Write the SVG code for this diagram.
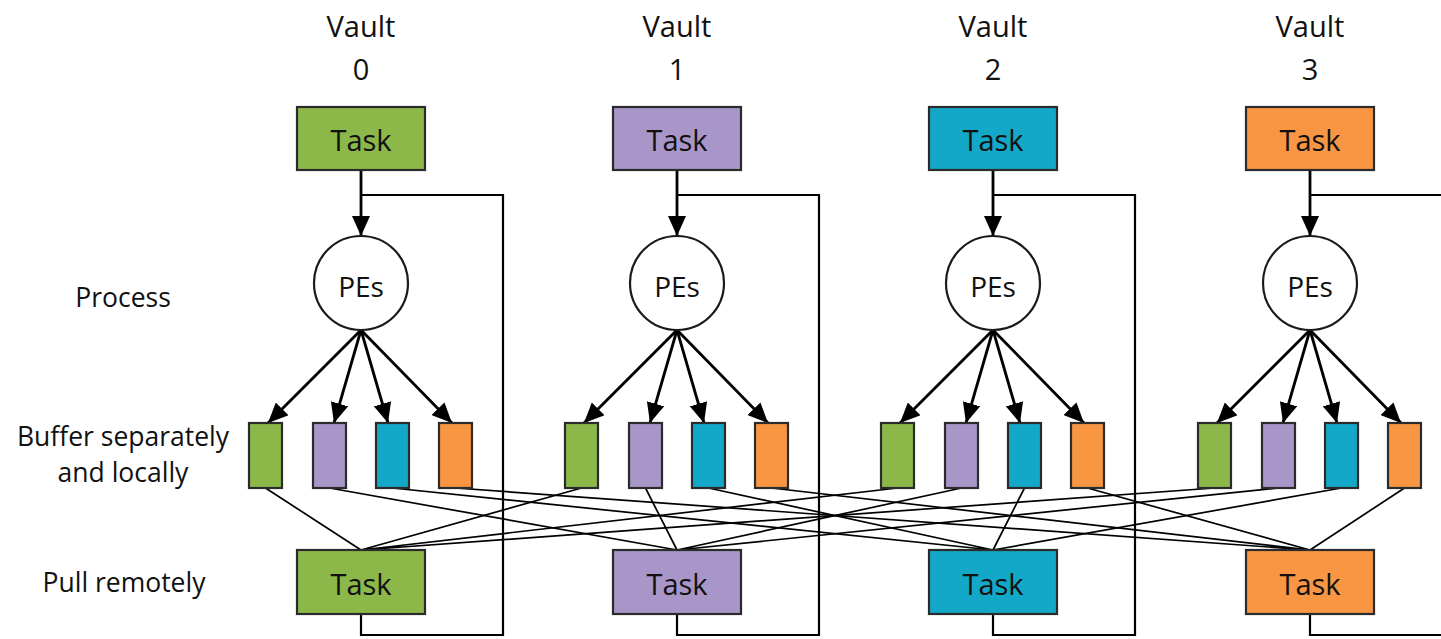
<svg xmlns="http://www.w3.org/2000/svg" width="1441" height="639" viewBox="0 0 1441 639">
<style>
text{font-family:"Open Sans","Noto Sans",sans-serif;fill:#111;text-anchor:middle}
.lbl{font-size:26.5px}
.vt{font-size:29px}
.tk{font-size:29px}
.pt{font-size:28px}
.box{stroke:#2b2b2b;stroke-width:2.2}
.g{fill:#8cb84a}.p{fill:#a996c8}.c{fill:#13a8c7}.o{fill:#f89644}
.pe{fill:#fff;stroke:#1a1a1a;stroke-width:2.2}
.arr{stroke:#000;stroke-width:2.8;fill:none;marker-end:url(#ah)}
.loop{stroke:#000;stroke-width:2.2;fill:none}
.thin{stroke:#000;stroke-width:1.7;fill:none}
</style>
<defs>
<marker id="ah" markerUnits="userSpaceOnUse" markerWidth="20" markerHeight="18" refX="20" refY="9" orient="auto" viewBox="0 0 20 18">
<path d="M0,0 L20,9 L0,18 z" fill="#000"/>
</marker>
</defs>
<g id="labels">
<text class="lbl" x="123" y="307">Process</text>
<text class="lbl" x="123" y="446">Buffer separately</text>
<text class="lbl" x="123" y="482">and locally</text>
<text class="lbl" x="124" y="592">Pull remotely</text>
</g>
<g id="connectors">
<path class="loop" d="M361,195 H503 V635 H361 V614"/>
<path class="loop" d="M677,195 H819 V635 H677 V614"/>
<path class="loop" d="M993,195 H1135 V635 H993 V614"/>
<path class="loop" d="M1310,195 H1452 V635 H1310 V614"/>
<path class="arr" d="M361,170 V236"/>
<path class="arr" d="M677,170 V236"/>
<path class="arr" d="M993,170 V236"/>
<path class="arr" d="M1310,170 V236"/>
<path class="arr" d="M361,330 L268,423"/>
<path class="arr" d="M361,330 L334,423"/>
<path class="arr" d="M361,330 L388,423"/>
<path class="arr" d="M361,330 L452,423"/>
<path class="arr" d="M677,330 L584,423"/>
<path class="arr" d="M677,330 L650,423"/>
<path class="arr" d="M677,330 L704,423"/>
<path class="arr" d="M677,330 L768,423"/>
<path class="arr" d="M993,330 L900,423"/>
<path class="arr" d="M993,330 L966,423"/>
<path class="arr" d="M993,330 L1020,423"/>
<path class="arr" d="M993,330 L1084,423"/>
<path class="arr" d="M1310,330 L1217,423"/>
<path class="arr" d="M1310,330 L1283,423"/>
<path class="arr" d="M1310,330 L1337,423"/>
<path class="arr" d="M1310,330 L1401,423"/>
<path class="thin" d="M265.5,488 L361,550 M581.5,488 L361,550 M897.5,488 L361,550 M1214.5,488 L361,550"/>
<path class="thin" d="M329.5,488 L677,550 M645.5,488 L677,550 M961.5,488 L677,550 M1278.5,488 L677,550"/>
<path class="thin" d="M392.5,488 L993,550 M708.5,488 L993,550 M1024.5,488 L993,550 M1341.5,488 L993,550"/>
<path class="thin" d="M455.5,488 L1310,550 M771.5,488 L1310,550 M1087.5,488 L1310,550 M1404.5,488 L1310,550"/>
</g>
<g id="vault0">
<text class="vt" x="361" y="37">Vault</text>
<text class="vt" x="361" y="80">0</text>
<rect class="box g" x="297" y="107" width="128" height="63"/>
<text class="tk" x="361" y="151">Task</text>
<circle class="pe" cx="361" cy="283" r="47"/>
<text class="pt" x="361" y="297">PEs</text>
<rect class="box g" x="249" y="423" width="33" height="65"/>
<rect class="box p" x="313" y="423" width="33" height="65"/>
<rect class="box c" x="376" y="423" width="33" height="65"/>
<rect class="box o" x="439" y="423" width="33" height="65"/>
<rect class="box g" x="297" y="550" width="128" height="64"/>
<text class="tk" x="361" y="595">Task</text>
</g>
<g id="vault1">
<text class="vt" x="677" y="37">Vault</text>
<text class="vt" x="677" y="80">1</text>
<rect class="box p" x="613" y="107" width="128" height="63"/>
<text class="tk" x="677" y="151">Task</text>
<circle class="pe" cx="677" cy="283" r="47"/>
<text class="pt" x="677" y="297">PEs</text>
<rect class="box g" x="565" y="423" width="33" height="65"/>
<rect class="box p" x="629" y="423" width="33" height="65"/>
<rect class="box c" x="692" y="423" width="33" height="65"/>
<rect class="box o" x="755" y="423" width="33" height="65"/>
<rect class="box p" x="613" y="550" width="128" height="64"/>
<text class="tk" x="677" y="595">Task</text>
</g>
<g id="vault2">
<text class="vt" x="993" y="37">Vault</text>
<text class="vt" x="993" y="80">2</text>
<rect class="box c" x="929" y="107" width="128" height="63"/>
<text class="tk" x="993" y="151">Task</text>
<circle class="pe" cx="993" cy="283" r="47"/>
<text class="pt" x="993" y="297">PEs</text>
<rect class="box g" x="881" y="423" width="33" height="65"/>
<rect class="box p" x="945" y="423" width="33" height="65"/>
<rect class="box c" x="1008" y="423" width="33" height="65"/>
<rect class="box o" x="1071" y="423" width="33" height="65"/>
<rect class="box c" x="929" y="550" width="128" height="64"/>
<text class="tk" x="993" y="595">Task</text>
</g>
<g id="vault3">
<text class="vt" x="1310" y="37">Vault</text>
<text class="vt" x="1310" y="80">3</text>
<rect class="box o" x="1246" y="107" width="128" height="63"/>
<text class="tk" x="1310" y="151">Task</text>
<circle class="pe" cx="1310" cy="283" r="47"/>
<text class="pt" x="1310" y="297">PEs</text>
<rect class="box g" x="1198" y="423" width="33" height="65"/>
<rect class="box p" x="1262" y="423" width="33" height="65"/>
<rect class="box c" x="1325" y="423" width="33" height="65"/>
<rect class="box o" x="1388" y="423" width="33" height="65"/>
<rect class="box o" x="1246" y="550" width="128" height="64"/>
<text class="tk" x="1310" y="595">Task</text>
</g>
</svg>
